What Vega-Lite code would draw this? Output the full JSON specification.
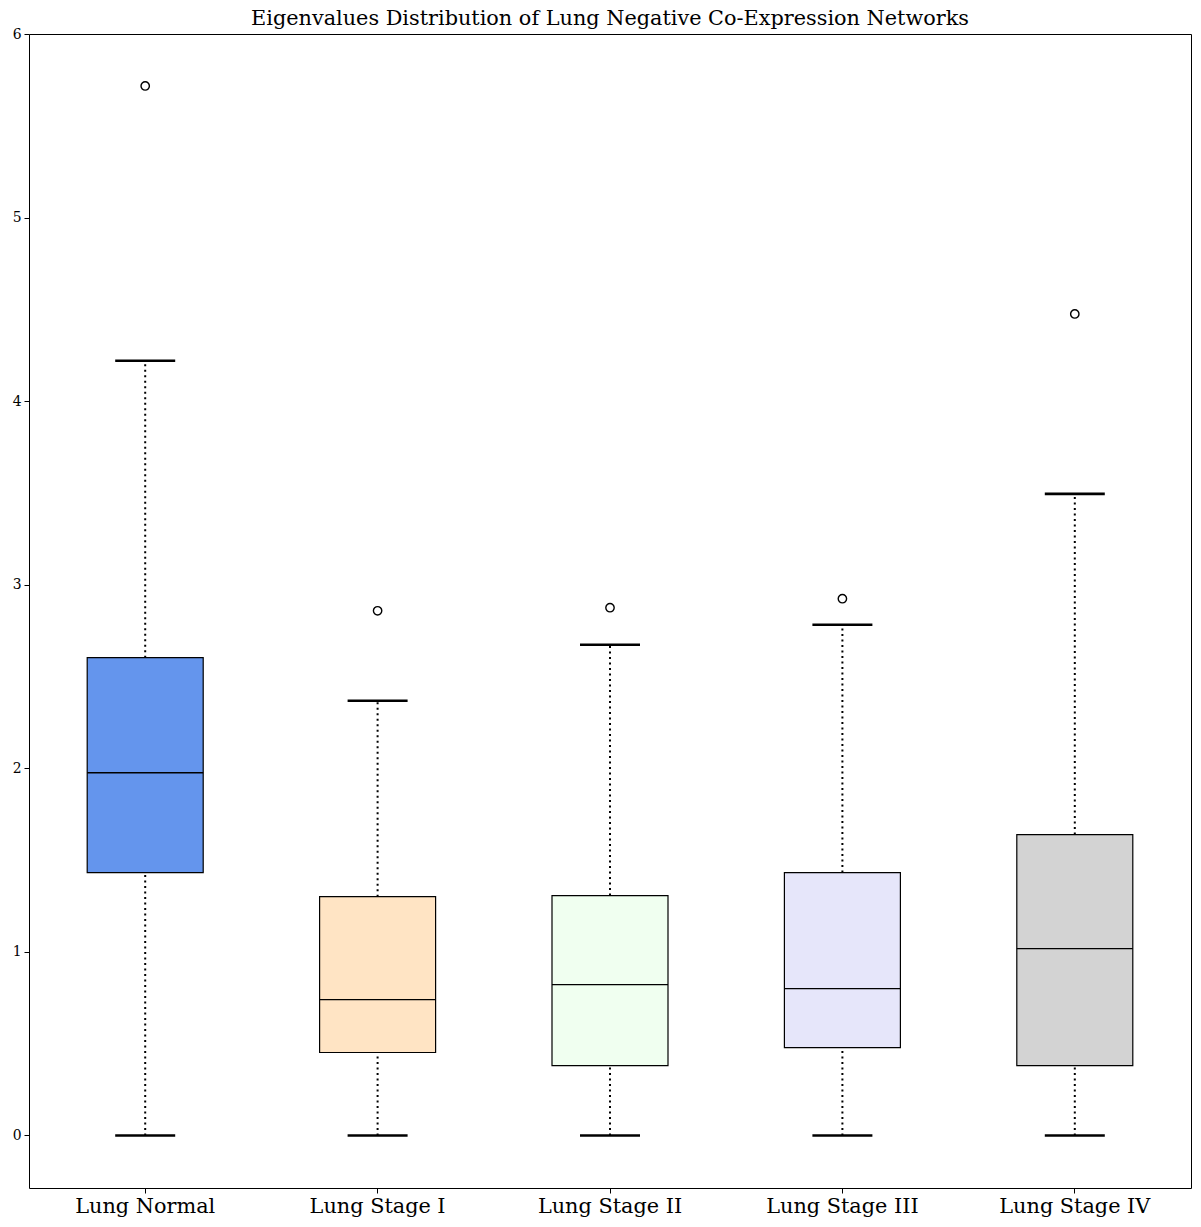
{
  "$schema": "https://vega.github.io/schema/vega-lite/v6.json",
  "autosize": {"type": "none"},
  "padding": {"left": 29, "top": 34, "right": 10, "bottom": 39},
  "width": 1162,
  "height": 1154,
  "background": "white",
  "config": {
    "view": {"stroke": "black", "strokeWidth": 1},
    "font": "DejaVu Serif",
    "axis": {"grid": false, "domain": false, "tickColor": "black", "labelColor": "black", "tickSize": 5, "labelFont": "DejaVu Serif"}
  },
  "title": {
    "text": "Eigenvalues Distribution of Lung Negative Co-Expression Networks",
    "font": "DejaVu Serif",
    "fontSize": 20.8,
    "fontWeight": "normal",
    "color": "black",
    "offset": -3
  },
  "datasets": {
    "stats": [
      {"group": "Lung Normal", "lower": 0, "q1": 1.432, "median": 1.976, "q3": 2.603, "upper": 4.22},
      {"group": "Lung Stage I", "lower": 0, "q1": 0.452, "median": 0.74, "q3": 1.301, "upper": 2.368},
      {"group": "Lung Stage II", "lower": 0, "q1": 0.381, "median": 0.822, "q3": 1.307, "upper": 2.673},
      {"group": "Lung Stage III", "lower": 0, "q1": 0.479, "median": 0.8, "q3": 1.432, "upper": 2.782},
      {"group": "Lung Stage IV", "lower": 0, "q1": 0.381, "median": 1.018, "q3": 1.639, "upper": 3.495}
    ],
    "outliers": [
      {"group": "Lung Normal", "value": 5.717},
      {"group": "Lung Stage I", "value": 2.858},
      {"group": "Lung Stage II", "value": 2.875},
      {"group": "Lung Stage III", "value": 2.924},
      {"group": "Lung Stage IV", "value": 4.475}
    ]
  },
  "encoding": {
    "x": {
      "field": "group",
      "type": "nominal",
      "sort": null,
      "title": null,
      "scale": {"paddingInner": 0, "paddingOuter": 0},
      "axis": {"labelAngle": 0, "labelFontSize": 20.8, "labelPadding": 3}
    }
  },
  "layer": [
    {
      "data": {"name": "stats"},
      "mark": {"type": "rule", "color": "black", "strokeWidth": 2, "strokeDash": [2, 3.5]},
      "encoding": {
        "y": {"field": "lower", "type": "quantitative", "scale": {"domain": [-0.286, 6.0], "nice": false, "zero": false}, "title": null,
              "axis": {"values": [0, 1, 2, 3, 4, 5, 6], "format": "d", "labelFontSize": 13.9, "labelPadding": 3}},
        "y2": {"field": "q1"}
      }
    },
    {
      "data": {"name": "stats"},
      "mark": {"type": "rule", "color": "black", "strokeWidth": 2, "strokeDash": [2, 3.5]},
      "encoding": {
        "y": {"field": "q3", "type": "quantitative"},
        "y2": {"field": "upper"}
      }
    },
    {
      "data": {"name": "stats"},
      "mark": {"type": "bar", "size": 116, "stroke": "black", "strokeWidth": 1.2},
      "encoding": {
        "y": {"field": "q1", "type": "quantitative"},
        "y2": {"field": "q3"},
        "fill": {
          "field": "group",
          "type": "nominal",
          "legend": null,
          "scale": {
            "domain": ["Lung Normal", "Lung Stage I", "Lung Stage II", "Lung Stage III", "Lung Stage IV"],
            "range": ["#6495ED", "#FFE4C4", "#F0FFF0", "#E6E6FA", "#D3D3D3"]
          }
        }
      }
    },
    {
      "data": {"name": "stats"},
      "mark": {"type": "tick", "orient": "horizontal", "size": 116, "thickness": 1.3, "color": "black", "opacity": 1},
      "encoding": {"y": {"field": "median", "type": "quantitative"}}
    },
    {
      "data": {"name": "stats"},
      "mark": {"type": "tick", "orient": "horizontal", "size": 60, "thickness": 2.6, "color": "black", "opacity": 1},
      "encoding": {"y": {"field": "lower", "type": "quantitative"}}
    },
    {
      "data": {"name": "stats"},
      "mark": {"type": "tick", "orient": "horizontal", "size": 60, "thickness": 2.6, "color": "black", "opacity": 1},
      "encoding": {"y": {"field": "upper", "type": "quantitative"}}
    },
    {
      "data": {"name": "outliers"},
      "mark": {"type": "point", "shape": "circle", "filled": false, "size": 70, "stroke": "black", "strokeWidth": 1.4, "opacity": 1},
      "encoding": {"y": {"field": "value", "type": "quantitative"}}
    }
  ]
}
